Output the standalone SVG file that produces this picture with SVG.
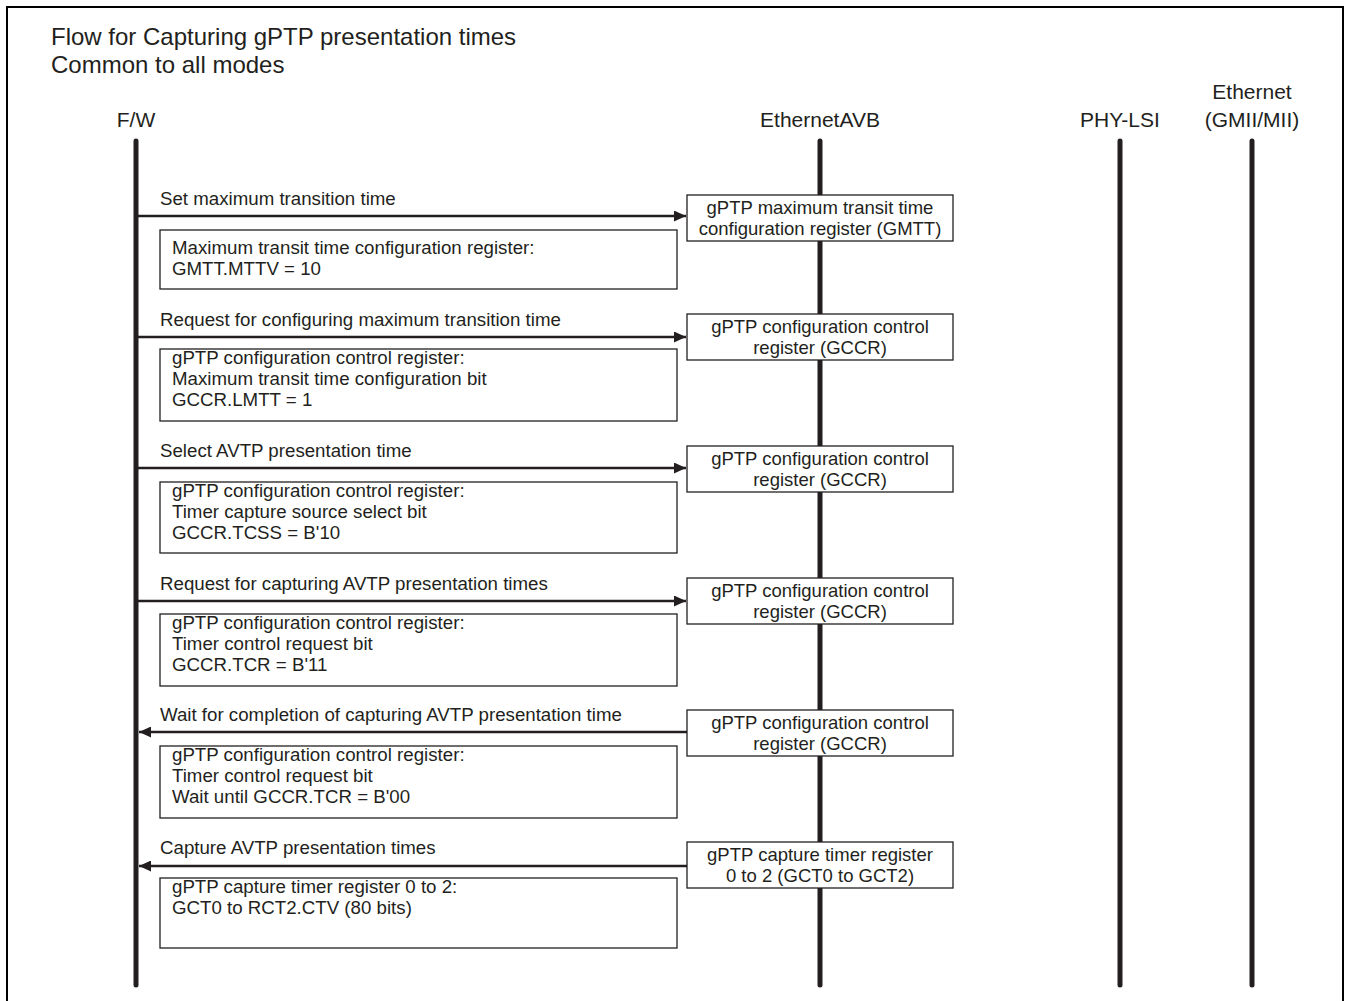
<svg xmlns="http://www.w3.org/2000/svg" width="1348" height="1001" viewBox="0 0 1348 1001">
  <style>
    text { font-family: "Liberation Sans", Arial, sans-serif; fill: #231f20; }
    .title { font-size: 24px; }
    .lane { font-size: 21px; text-anchor: middle; }
    .msg { font-size: 18.7px; }
    .note { font-size: 18.7px; }
    .reg { font-size: 18.5px; text-anchor: middle; }
    .life { stroke: #231f20; stroke-width: 5; stroke-linecap: round; fill: none; }
    .box { fill: #ffffff; stroke: #231f20; stroke-width: 1.3; }
    .arrow { stroke: #231f20; stroke-width: 2.5; fill: none; }
  </style>
  <defs>
    <marker id="head" viewBox="0 0 12 11" refX="12" refY="5.5" markerWidth="12" markerHeight="11" markerUnits="userSpaceOnUse" orient="auto">
      <path d="M0,0 L12,5.5 L0,11 Z" fill="#231f20"/>
    </marker>
  </defs>

  <rect width="1348" height="1001" fill="#ffffff"/>
  <!-- frame (open at the bottom) -->
  <path d="M7,1001 V7 H1343 V1001" fill="none" stroke="#000000" stroke-width="2"/>

  <text class="title" x="51" y="45">Flow for Capturing gPTP presentation times</text>
  <text class="title" x="51" y="73">Common to all modes</text>

  <!-- lifelines -->
  <g id="lane-fw">
    <text class="lane" x="136" y="127">F/W</text>
    <line class="life" x1="136" y1="141" x2="136" y2="985"/>
  </g>
  <g id="lane-avb">
    <text class="lane" x="820" y="127">EthernetAVB</text>
    <line class="life" x1="820" y1="141" x2="820" y2="985"/>
  </g>
  <g id="lane-phy">
    <text class="lane" x="1120" y="127">PHY-LSI</text>
    <line class="life" x1="1120" y1="141" x2="1120" y2="985"/>
  </g>
  <g id="lane-eth">
    <text class="lane" x="1252" y="99">Ethernet</text>
    <text class="lane" x="1252" y="127">(GMII/MII)</text>
    <line class="life" x1="1252" y1="141" x2="1252" y2="985"/>
  </g>

  <!-- messages -->
  <g id="connectors">
    <line class="arrow" x1="138" y1="216" x2="686" y2="216" marker-end="url(#head)"/>
    <line class="arrow" x1="138" y1="337" x2="686" y2="337" marker-end="url(#head)"/>
    <line class="arrow" x1="138" y1="468" x2="686" y2="468" marker-end="url(#head)"/>
    <line class="arrow" x1="138" y1="601" x2="686" y2="601" marker-end="url(#head)"/>
    <line class="arrow" x1="687" y1="732" x2="139" y2="732" marker-end="url(#head)"/>
    <line class="arrow" x1="687" y1="866" x2="139" y2="866" marker-end="url(#head)"/>
  </g>

  <!-- step 1 -->
  <g id="step1">
    <text class="msg" x="160" y="205">Set maximum transition time</text>
    <rect class="box" x="160" y="230" width="517" height="59"/>
    <text class="note" x="172" y="254">Maximum transit time configuration register:</text>
    <text class="note" x="172" y="275">GMTT.MTTV = 10</text>
  </g>
  <g id="reg-gmtt">
    <rect class="box" x="687" y="195" width="266" height="46"/>
    <text class="reg" x="820" y="214">gPTP maximum transit time</text>
    <text class="reg" x="820" y="235">configuration register (GMTT)</text>
  </g>

  <!-- step 2 -->
  <g id="step2">
    <text class="msg" x="160" y="326">Request for configuring maximum transition time</text>
    <rect class="box" x="160" y="349" width="517" height="72"/>
    <text class="note" x="172" y="364">gPTP configuration control register:</text>
    <text class="note" x="172" y="385">Maximum transit time configuration bit</text>
    <text class="note" x="172" y="406">GCCR.LMTT = 1</text>
  </g>
  <g id="reg-gccr-1">
    <rect class="box" x="687" y="314" width="266" height="46"/>
    <text class="reg" x="820" y="333">gPTP configuration control</text>
    <text class="reg" x="820" y="354">register (GCCR)</text>
  </g>

  <!-- step 3 -->
  <g id="step3">
    <text class="msg" x="160" y="457">Select AVTP presentation time</text>
    <rect class="box" x="160" y="482" width="517" height="71"/>
    <text class="note" x="172" y="497">gPTP configuration control register:</text>
    <text class="note" x="172" y="518">Timer capture source select bit</text>
    <text class="note" x="172" y="539">GCCR.TCSS = B'10</text>
  </g>
  <g id="reg-gccr-2">
    <rect class="box" x="687" y="446" width="266" height="46"/>
    <text class="reg" x="820" y="465">gPTP configuration control</text>
    <text class="reg" x="820" y="486">register (GCCR)</text>
  </g>

  <!-- step 4 -->
  <g id="step4">
    <text class="msg" x="160" y="590">Request for capturing AVTP presentation times</text>
    <rect class="box" x="160" y="614" width="517" height="72"/>
    <text class="note" x="172" y="629">gPTP configuration control register:</text>
    <text class="note" x="172" y="650">Timer control request bit</text>
    <text class="note" x="172" y="671">GCCR.TCR = B'11</text>
  </g>
  <g id="reg-gccr-3">
    <rect class="box" x="687" y="578" width="266" height="46"/>
    <text class="reg" x="820" y="597">gPTP configuration control</text>
    <text class="reg" x="820" y="618">register (GCCR)</text>
  </g>

  <!-- step 5 -->
  <g id="step5">
    <text class="msg" x="160" y="721">Wait for completion of capturing AVTP presentation time</text>
    <rect class="box" x="160" y="746" width="517" height="72"/>
    <text class="note" x="172" y="761">gPTP configuration control register:</text>
    <text class="note" x="172" y="782">Timer control request bit</text>
    <text class="note" x="172" y="803">Wait until GCCR.TCR = B'00</text>
  </g>
  <g id="reg-gccr-4">
    <rect class="box" x="687" y="710" width="266" height="46"/>
    <text class="reg" x="820" y="729">gPTP configuration control</text>
    <text class="reg" x="820" y="750">register (GCCR)</text>
  </g>

  <!-- step 6 -->
  <g id="step6">
    <text class="msg" x="160" y="854">Capture AVTP presentation times</text>
    <rect class="box" x="160" y="878" width="517" height="70"/>
    <text class="note" x="172" y="893">gPTP capture timer register 0 to 2:</text>
    <text class="note" x="172" y="914">GCT0 to RCT2.CTV (80 bits)</text>
  </g>
  <g id="reg-gct">
    <rect class="box" x="687" y="842" width="266" height="46"/>
    <text class="reg" x="820" y="861">gPTP capture timer register</text>
    <text class="reg" x="820" y="882">0 to 2 (GCT0 to GCT2)</text>
  </g>
</svg>
